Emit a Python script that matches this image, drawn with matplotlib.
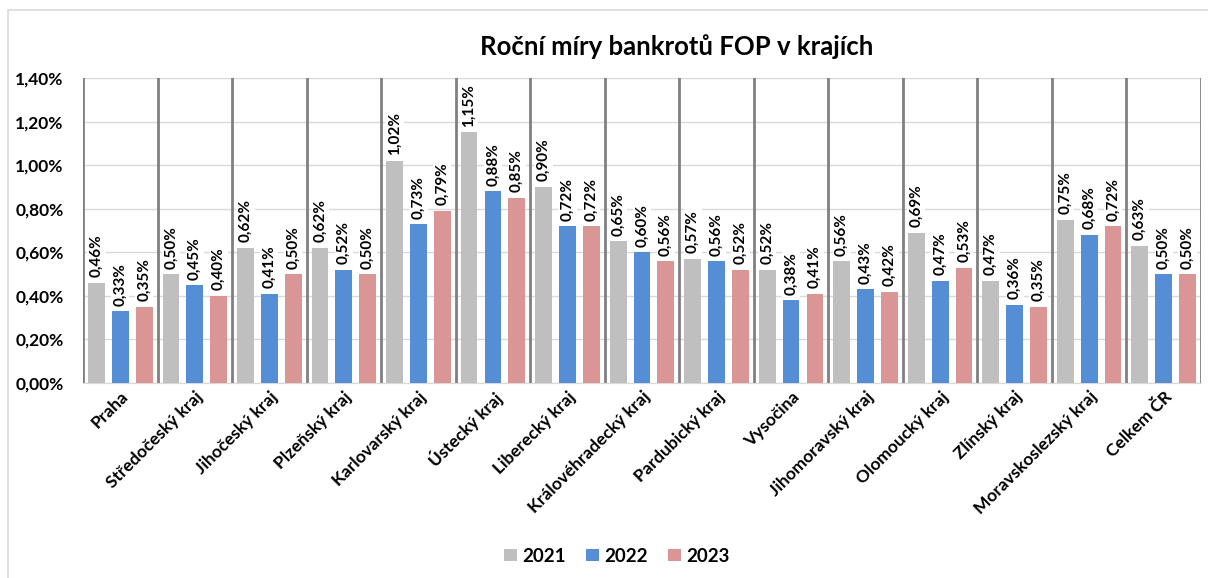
import numpy as np
import matplotlib
matplotlib.use("Agg")
import matplotlib.pyplot as plt
from matplotlib.patches import Rectangle
from matplotlib.ticker import FuncFormatter

plt.rcParams['font.family'] = ['Lato', 'DejaVu Sans']

# data
kraje = ["Praha", "Středočeský kraj", "Jihočeský kraj", "Plzeňský kraj",
         "Karlovarský kraj", "Ústecký kraj", "Liberecký kraj",
         "Královéhradecký kraj", "Pardubický kraj", "Vysočina",
         "Jihomoravský kraj", "Olomoucký kraj", "Zlínský kraj",
         "Moravskoslezský kraj", "Celkem ČR"]
roky = ["2021", "2022", "2023"]
v2021 = [0.46, 0.50, 0.62, 0.62, 1.02, 1.15, 0.90, 0.65, 0.57, 0.52, 0.56, 0.69, 0.47, 0.75, 0.63]
v2022 = [0.33, 0.45, 0.41, 0.52, 0.73, 0.88, 0.72, 0.60, 0.56, 0.38, 0.43, 0.47, 0.36, 0.68, 0.50]
v2023 = [0.35, 0.40, 0.50, 0.50, 0.79, 0.85, 0.72, 0.56, 0.52, 0.41, 0.42, 0.53, 0.35, 0.72, 0.50]
barvy = ["#BFBFBF", "#558ED5", "#D99694"]

fig = plt.figure(figsize=(12.08, 5.78), dpi=100)
ax = fig.add_axes([83/1208, 1-383/578, (1201-83)/1208, (383-78)/578])

# ramecek grafu
fig.patches.append(Rectangle((8/1208, -0.01), 1.1, 1-10/578+0.01, transform=fig.transFigure,
                             fill=False, edgecolor="#D9D9D9", linewidth=1.2))

x = np.arange(len(kraje))
sirka = 0.225
posun = 0.32

# svisle oddelovace mezi kraji
for b in np.arange(len(kraje) + 1) - 0.5:
    ax.axvline(b, color="#808080", linewidth=2, zorder=1)

for i, (hodnoty, rok) in enumerate(zip([v2021, v2022, v2023], roky)):
    pos = x + (i - 1) * posun
    ax.bar(pos, hodnoty, width=sirka, color=barvy[i], label=rok, zorder=3)
    for px, v in zip(pos, hodnoty):
        ax.text(px, v + 0.025, f"{v:.2f}%".replace(".", ","), rotation=90,
                ha="center", va="bottom", fontsize=11, fontweight="bold",
                zorder=4, bbox=dict(facecolor="white", edgecolor="none", pad=1.5))

ax.set_ylim(0, 1.40)
ax.set_xlim(-0.5, len(kraje) - 0.5)
ax.set_yticks(np.arange(0, 1.41, 0.2))
ax.yaxis.set_major_formatter(FuncFormatter(lambda v, p: f"{v:.2f}%".replace(".", ",")))
ax.grid(axis="y", color="#D9D9D9", linewidth=1, zorder=0)
ax.set_axisbelow(True)
for s in ["top", "right", "left"]:
    ax.spines[s].set_visible(False)
ax.spines["bottom"].set_color("#D9D9D9")
ax.tick_params(axis="y", length=0, labelsize=12.5, pad=14)
ax.tick_params(axis="x", length=0, pad=4)
for t in ax.get_yticklabels():
    t.set_fontweight("bold")

ax.set_xticks(x)
ax.set_xticklabels(kraje, rotation=45, ha="right", rotation_mode="anchor",
                   fontsize=12.5, fontweight="bold")

fig.text(0.56, 1-47/578, "Roční míry bankrotů FOP v krajích", ha="center", va="center",
         fontsize=18.5, fontweight="bold")

leg = fig.legend(loc="center", bbox_to_anchor=(617/1208, 1-556/578), ncol=3, frameon=False,
                 prop={"weight": "bold", "size": 13.5}, handlelength=0.65, handleheight=0.65,
                 columnspacing=1.1, handletextpad=0.3)

fig.savefig("out.png", dpi=100, facecolor="white")
